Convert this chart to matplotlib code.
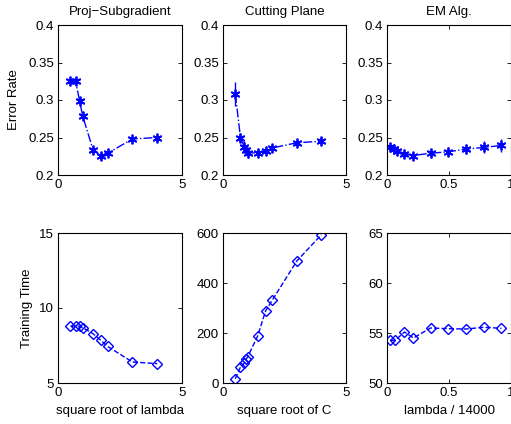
import matplotlib
matplotlib.use('Agg')
import matplotlib.pyplot as plt
import numpy as np

plt.rcParams['font.family'] = ['Liberation Sans', 'DejaVu Sans']
plt.rcParams['font.size'] = 9.5

# ---- data ----
# Proj-Subgradient
x_ps = [0.5, 0.71, 0.87, 1.0, 1.41, 1.73, 2.0, 3.0, 4.0]
err_ps = [0.325, 0.325, 0.299, 0.278, 0.234, 0.226, 0.229, 0.248, 0.250]
errbar_ps = [0.003, 0.003, 0.004, 0.004, 0.004, 0.003, 0.003, 0.003, 0.003]
time_ps = [8.8, 8.8, 8.78, 8.69, 8.29, 7.84, 7.44, 6.4, 6.29]

# Cutting Plane
x_cp = [0.5, 0.71, 0.87, 0.94, 1.0, 1.41, 1.73, 2.0, 3.0, 4.0]
err_cp = [0.308, 0.250, 0.237, 0.234, 0.230, 0.229, 0.232, 0.236, 0.243, 0.245]
errbar_cp = [0.016, 0.006, 0.008, 0.005, 0.007, 0.004, 0.004, 0.004, 0.004, 0.004]
x_cp_t = [0.5, 0.71, 0.87, 0.94, 1.0, 1.41, 1.73, 2.0, 3.0, 4.0]
time_cp = [17, 64, 80, 95, 104, 188, 288, 331, 488, 593]

# EM Alg.
x_em = [0.027, 0.053, 0.08, 0.141, 0.213, 0.351, 0.495, 0.638, 0.779, 0.923]
err_em = [0.2376, 0.2345, 0.232, 0.228, 0.226, 0.229, 0.231, 0.2345, 0.2367, 0.2394]
errbar_em = [0.004, 0.004, 0.004, 0.005, 0.004, 0.006, 0.006, 0.007, 0.008, 0.009]
x_em_t = [0.027, 0.066, 0.141, 0.213, 0.351, 0.495, 0.638, 0.779, 0.923]
time_em = [54.27, 54.27, 55.1, 54.5, 55.5, 55.43, 55.4, 55.57, 55.47]

titles = ['Proj\u2212Subgradient', 'Cutting Plane', 'EM Alg.']
xlabels = ['square root of lambda', 'square root of C', 'lambda / 14000']

W, H = 511, 424
fig = plt.figure(figsize=(W / 100, H / 100), dpi=100)

cols = [(58, 182), (223, 346), (387, 511)]
rows = [(25, 175), (233, 383)]


def make_ax(col, row):
    l, r = cols[col]
    t, b = rows[row]
    ax = fig.add_axes([l / W, (H - b) / H, (r - l) / W, (b - t) / H])
    ax.tick_params(direction='in', top=True, right=True, length=3, width=0.6,
                   labelsize=9.5, pad=3)
    for s in ax.spines.values():
        s.set_linewidth(0.8)
    return ax


blue = (0, 0, 1)
star = (6, 2, 0)

# top row: error rate
top_data = [(x_ps, err_ps, errbar_ps), (x_cp, err_cp, errbar_cp), (x_em, err_em, errbar_em)]
for i, (xs, ys, es) in enumerate(top_data):
    ax = make_ax(i, 0)
    ax.errorbar(xs, ys, yerr=es, color=blue, ls='-.', lw=1.0, marker=star,
                ms=7, mew=1.3, capsize=0, elinewidth=1.0)
    ax.set_ylim(0.2, 0.4)
    ax.set_yticks([0.2, 0.25, 0.3, 0.35, 0.4])
    ax.set_yticklabels(['0.2', '0.25', '0.3', '0.35', '0.4'])
    if i < 2:
        ax.set_xlim(0, 5)
        ax.set_xticks([0, 5])
    else:
        ax.set_xlim(0, 1)
        ax.set_xticks([0, 0.5, 1])
        ax.set_xticklabels(['0', '0.5', '1'])
    ax.set_title(titles[i], fontsize=9.5, pad=7)
    if i == 0:
        ax.set_ylabel('Error Rate', fontsize=9.5, labelpad=6)

# bottom row: training time
bot_data = [(x_ps, time_ps, (5, 15), [5, 10, 15]),
            (x_cp_t, time_cp, (0, 600), [0, 200, 400, 600]),
            (x_em_t, time_em, (50, 65), [50, 55, 60, 65])]
for i, (xs, ys, lim, ticks) in enumerate(bot_data):
    ax = make_ax(i, 1)
    ax.plot(xs, ys, color=blue, ls='--', lw=1.0, marker='D', ms=5.5,
            mfc='none', mew=1.0)
    ax.set_ylim(*lim)
    ax.set_yticks(ticks)
    if i < 2:
        ax.set_xlim(0, 5)
        ax.set_xticks([0, 5])
    else:
        ax.set_xlim(0, 1)
        ax.set_xticks([0, 0.5, 1])
        ax.set_xticklabels(['0', '0.5', '1'])
    ax.set_xlabel(xlabels[i], fontsize=9.5, labelpad=4)
    if i == 0:
        ax.set_ylabel('Training Time', fontsize=9.5)

fig.savefig('out.png', dpi=100)
